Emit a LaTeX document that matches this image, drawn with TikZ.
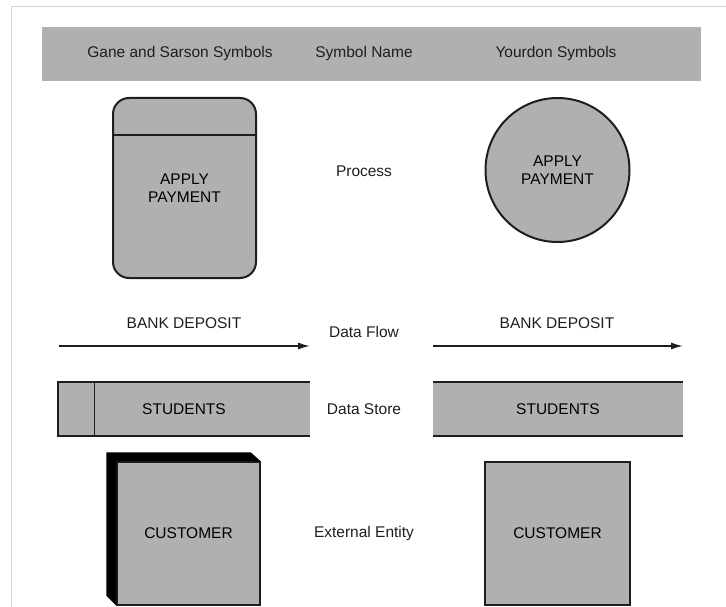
\documentclass[tikz,border=0pt]{standalone}
\usepackage{fontspec}
\setmainfont{Liberation Sans}
\usetikzlibrary{arrows.meta, positioning}
\definecolor{symfill}{RGB}{176,176,176}
\definecolor{symline}{RGB}{30,30,30}

\begin{document}
\begin{tikzpicture}[x=1pt, y=-1pt, >={Latex[length=12pt,width=7pt]},
  font=\fontsize{15.5}{18}\selectfont,
  sym/.style={draw=symline, line width=2pt, fill=symfill, align=center, inner sep=0pt},
  store/.style={fill=symfill, minimum height=54pt, inner sep=0pt},
  lbl/.style={align=center, text=symline}]
  \useasboundingbox (0,0) rectangle (726,607);
  \draw[black!18, line width=1pt] (11,607) -- (11,7) -- (726,7);
  % header row
  \node[fill=symfill, minimum width=659pt, minimum height=54pt, inner sep=0pt] (head) at (371.5,54) {};
  \node[lbl] (hgane) at (180,53) {Gane and Sarson Symbols};
  \node[lbl] (hname) at (364,53) {Symbol Name};
  \node[lbl] (hyour) at (556,53) {Yourdon Symbols};
  % process
  \node[sym, rounded corners=16pt, minimum width=143pt, minimum height=180pt] (procgs) at (184.5,188)
    {APPLY\\PAYMENT};
  \draw[symline, line width=2pt] (procgs.west |- 0,135) -- (procgs.east |- 0,135);
  \node[lbl] (lproc) at (364,171) {Process};
  \node[sym, circle, minimum size=144pt] (procyd) at (557.5,170) {APPLY\\PAYMENT};
  % data flow
  \coordinate (flgsa) at (59,346);
  \coordinate (flgsb) at (310,346);
  \coordinate (flyda) at (433,346);
  \coordinate (flydb) at (683,346);
  \draw[->, symline, line width=1.5pt] (flgsa) -- (flgsb);
  \draw[->, symline, line width=1.5pt] (flyda) -- (flydb);
  \node[lbl] (bdgs) at (184,323) {BANK DEPOSIT};
  \node[lbl] (bdyd) at (557,323) {BANK DEPOSIT};
  \node[lbl] (lflow) at (364,332) {Data Flow};
  % data store
  \node[store, minimum width=252pt] (dsgs) at (184,409) {STUDENTS};
  \draw[symline, line width=2pt] (dsgs.north east) -- (dsgs.north west) -- (dsgs.south west)
    -- (dsgs.south east);
  \draw[symline, line width=1.2pt] ([xshift=37pt]dsgs.north west) -- ([xshift=37pt]dsgs.south west);
  \node[lbl] (lstore) at (364,409) {Data Store};
  \node[store, minimum width=250pt] (dsyd) at (558,409) {STUDENTS};
  \draw[symline, line width=2pt] (dsyd.north west) -- (dsyd.north east);
  \draw[symline, line width=2pt] (dsyd.south west) -- (dsyd.south east);
  % external entity
  \node[sym, line width=1.4pt, minimum width=143pt, minimum height=143pt] (entgs) at (188.5,533.5) {CUSTOMER};
  \fill[black] (entgs.north east) -- ([shift={(-10,-9)}]entgs.north east) -- ([shift={(-10,-9)}]entgs.north west)
    -- ([shift={(-10,-10)}]entgs.south west) -- (entgs.south west) -- (entgs.north west) -- cycle;
  \node[lbl] (lent) at (364,533) {External Entity};
  \node[sym, line width=1.4pt, minimum width=145pt, minimum height=143pt] (entyd) at (557.5,533.5) {CUSTOMER};
\end{tikzpicture}
\end{document}
